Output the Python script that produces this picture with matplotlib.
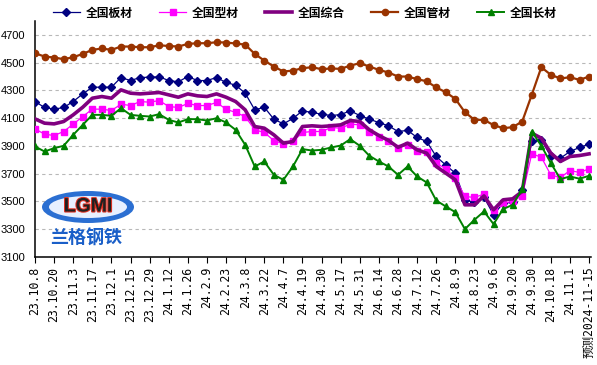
import matplotlib
matplotlib.use('Agg')
import matplotlib.pyplot as plt
from matplotlib.patches import Ellipse
import matplotlib.patheffects as pe
import numpy as np

plt.rcParams['font.family'] = ['Liberation Sans', 'Noto Sans CJK SC']

# tick labels, one every two weekly points
tick_labels = ['23.10.8', '23.10.20', '23.11.3', '23.11.17', '23.12.1', '23.12.15', '23.12.29',
               '24.1.12', '24.1.26', '24.2.9', '24.2.23', '24.3.8', '24.3.22', '24.4.7',
               '24.4.19', '24.4.30', '24.5.17', '24.5.31', '24.6.14', '24.6.28', '24.7.12',
               '24.7.26', '24.8.9', '24.8.23', '24.9.6', '24.9.20', '24.9.30', '24.10.18',
               '24.11.1', '预测2024-11-15']

names = ['全国板材', '全国型材', '全国综合', '全国管材', '全国长材']

plate = [4220, 4177, 4165, 4177, 4220, 4275, 4323, 4323, 4323, 4393, 4371, 4393, 4395, 4398,
         4371, 4362, 4400, 4371, 4371, 4393, 4357, 4338, 4280, 4160, 4179, 4093, 4059, 4098,
         4153, 4141, 4129, 4119, 4126, 4153, 4119, 4093, 4068, 4045, 4004, 4012, 3961, 3932,
         3824, 3762, 3704, 3512, 3493, 3530, 3404, 3488, 3493, 3584, 3932, 3944, 3824, 3812,
         3860, 3889, 3913]
section = [4023, 3985, 3975, 4004, 4057, 4112, 4165, 4165, 4155, 4201, 4191, 4220, 4215, 4227,
           4184, 4177, 4206, 4191, 4191, 4213, 4165, 4141, 4112, 4016, 3997, 3939, 3915, 3932,
           3997, 4004, 4004, 4033, 4028, 4057, 4052, 4004, 3968, 3939, 3886, 3908, 3860, 3855,
           3776, 3735, 3668, 3536, 3529, 3553, 3435, 3488, 3500, 3543, 3843, 3819, 3690, 3673,
           3723, 3709, 3735]
overall = [4095, 4064, 4059, 4076, 4124, 4179, 4244, 4256, 4244, 4304, 4280, 4275, 4280, 4285,
           4268, 4251, 4275, 4261, 4256, 4275, 4251, 4220, 4160, 4040, 4028, 3980, 3920, 3932,
           4040, 4045, 4040, 4045, 4052, 4083, 4076, 4016, 3975, 3940, 3890, 3920, 3872, 3848,
           3752, 3704, 3656, 3476, 3476, 3540, 3440, 3512, 3519, 3572, 3992, 3956, 3848, 3788,
           3824, 3831, 3843]
pipe = [4568, 4544, 4537, 4525, 4539, 4563, 4592, 4602, 4592, 4616, 4616, 4611, 4611, 4625,
        4620, 4616, 4635, 4640, 4640, 4647, 4645, 4638, 4630, 4563, 4515, 4472, 4436, 4443,
        4460, 4467, 4453, 4458, 4455, 4479, 4496, 4472, 4448, 4429, 4400, 4400, 4381, 4366,
        4321, 4287, 4239, 4143, 4088, 4088, 4050, 4028, 4035, 4076, 4268, 4467, 4412, 4386,
        4395, 4376, 4400]
long_ = [3896, 3860, 3884, 3901, 3980, 4052, 4124, 4124, 4117, 4172, 4124, 4117, 4112, 4129,
         4088, 4069, 4093, 4093, 4083, 4100, 4069, 4016, 3908, 3752, 3788, 3692, 3656, 3752,
         3877, 3867, 3872, 3889, 3903, 3949, 3901, 3829, 3788, 3752, 3692, 3752, 3680, 3637,
         3507, 3464, 3423, 3301, 3368, 3428, 3337, 3445, 3476, 3589, 4004, 3901, 3776, 3661,
         3680, 3664, 3685]

W, H = 597, 365
fig = plt.figure(figsize=(W / 100, H / 100), dpi=100)
ax = fig.add_axes([35 / W, (H - 257) / H, 556 / W, 236 / H])

x = np.arange(len(plate))
ax.plot(x, plate, color='#000080', lw=0.9, marker='D', ms=4.4, label=names[0], zorder=3)
ax.plot(x, section, color='#FF00FF', lw=0.9, marker='s', ms=4.8, label=names[1], zorder=4)
ax.plot(x, overall, color='#800080', lw=2.6, label=names[2], zorder=5)
ax.plot(x, pipe, color='#993300', lw=1.6, marker='o', ms=4.5, label=names[3], zorder=3)
ax.plot(x, long_, color='#008000', lw=1.4, marker='^', ms=5, label=names[4], zorder=6)

ax.set_xlim(0, 58.2)
ax.set_ylim(3100, 4800)
ax.set_yticks(np.arange(3100, 4701, 200))
ax.yaxis.grid(True, color='#b8b8b8', ls=(0, (3, 3)), lw=0.8)
ax.set_axisbelow(True)
for s in ['top', 'right']:
    ax.spines[s].set_visible(False)
ax.spines['left'].set_linewidth(1.1)
ax.spines['bottom'].set_linewidth(1.1)
ax.tick_params(axis='y', length=0, pad=7, labelsize=8)
ax.tick_params(axis='x', length=4, width=0.8, pad=3)
ax.set_xticks(x[::2])
ax.set_xticklabels(tick_labels, rotation=90, fontsize=8.3,
                   family=['DejaVu Sans Mono', 'Noto Sans CJK SC'])

fig.legend(loc='center', bbox_to_anchor=(305 / W, 1 - 13 / H), ncol=5, frameon=False,
           prop={'family': 'Noto Sans CJK SC', 'weight': 'bold', 'size': 8.5},
           handlelength=2.3, columnspacing=2.2, handletextpad=0.5, numpoints=1)

# logo
def fx(px):
    return px / W

def fy(py):
    return 1 - py / H

fig.patches.append(Ellipse((fx(88), fy(207)), 92 / W, 32 / H, transform=fig.transFigure,
                           facecolor='#2b6fd2', edgecolor='none', zorder=1))
fig.patches.append(Ellipse((fx(88), fy(207)), 78 / W, 22 / H, transform=fig.transFigure,
                           facecolor='#e8f0ff', edgecolor='none', zorder=1))
fig.text(fx(88), fy(207), 'LGMI', ha='center', va='center', fontsize=14, fontweight='bold',
         color='#202020', family='Liberation Sans',
         path_effects=[pe.withStroke(linewidth=1.5, foreground='#e03020')])
fig.text(fx(86), fy(238), '兰格钢铁', ha='center', va='center', fontsize=13, fontweight='bold',
         color='#1a5fc8', family='Noto Sans CJK SC')

fig.savefig('out.png', dpi=100)
